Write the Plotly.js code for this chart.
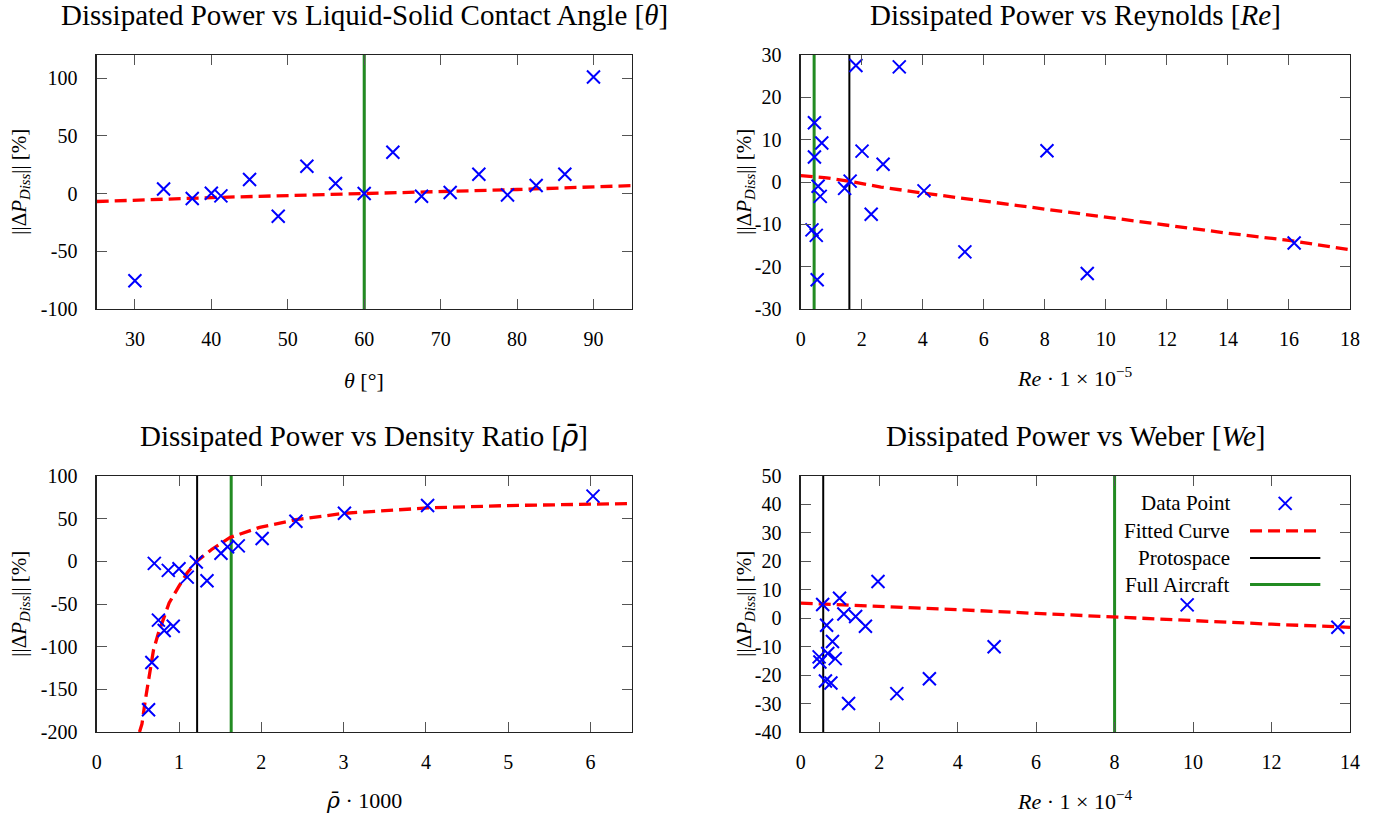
<!DOCTYPE html>
<html>
<head>
<meta charset="utf-8">
<script src="https://cdn.plot.ly/plotly-3.0.1.min.js"></script>
<style>html,body{margin:0;padding:0;background:#fff;}#chart{width:1385px;height:819px;}</style>
</head>
<body>
<div id="chart"></div>
<script>
// ---------- Data ----------
// Panel 1: contact angle
const theta_x = [30, 33.75, 37.5, 40, 41.25, 45, 48.75, 52.5, 56.25, 60, 63.75, 67.5, 71.25, 75, 78.75, 82.5, 86.25, 90];
const theta_y = [-75.6, 4.0, -4.3, 0.3, -2.0, 12.1, -19.6, 23.7, 8.7, 0.0, 35.8, -2.3, 0.9, 16.7, -1.2, 6.9, 16.7, 101];
const theta_fit_x = [25, 40, 60, 80, 95];
const theta_fit_y = [-6.9, -3.5, 0.0, 3.5, 6.9];

// Panel 2: Reynolds (x 1e-5)
const re_x = [1.81, 3.23, 0.45, 0.69, 0.45, 2.01, 2.70, 8.07, 1.62, 1.44, 0.57, 0.64, 4.04, 2.31, 0.37, 0.51, 5.38, 9.39, 0.54, 16.17];
const re_y = [27.5, 27.2, 14.0, 9.2, 5.9, 7.3, 4.2, 7.4, 0.2, -1.5, -1.0, -3.4, -2.1, -7.6, -11.3, -12.6, -16.5, -21.6, -23.1, -14.4];
const re_fit_x = [0, 0.85, 1.62, 2.63, 4, 6, 8, 10, 12, 14, 16, 18];
const re_fit_y = [1.5, 1.0, 0.16, -1.2, -2.6, -4.5, -6.5, -8.3, -10.3, -12.1, -13.8, -16.0];

// Panel 3: density ratio (x 1000)
const rho_x = [0.70, 0.87, 1.00, 1.10, 1.21, 1.34, 1.51, 1.59, 1.72, 2.01, 2.42, 3.01, 4.02, 6.03, 0.75, 0.82, 0.93, 0.67, 0.63];
const rho_y = [-2.4, -10.6, -8.7, -18.5, -0.8, -22.8, 9.4, 16.9, 18.1, 26.8, 46.9, 56.3, 65.4, 76.4, -68.9, -81.1, -76.0, -118.5, -174];
const rho_fit_x = [0.52, 0.55, 0.59, 0.64, 0.69, 0.75, 0.82, 0.88, 1.0, 1.10, 1.22, 1.40, 1.62, 1.98, 2.42, 3.01, 4.02, 5.0, 6.5];
const rho_fit_y = [-200, -190.6, -163, -131.5, -104, -84, -64.6, -48.8, -29, -13.4, 0.4, 14.2, 28, 39.8, 48.8, 56.3, 62.6, 65.4, 67.7];

// Panel 4: Weber (x 1e-4)
const we_x = [1.97, 0.99, 0.56, 1.10, 1.40, 1.65, 0.66, 0.81, 9.85, 13.69, 4.93, 0.69, 0.47, 0.88, 0.49, 3.28, 0.63, 0.77, 2.45, 1.22];
const we_y = [12.9, 7.0, 4.8, 1.5, 0.6, -2.8, -2.5, -8.2, 4.7, -3.2, -10.0, -12.4, -13.6, -14.2, -15.4, -21.3, -22.1, -22.8, -26.5, -30.0];
const we_fit_x = [0, 2, 4, 6, 8, 10, 12, 14];
const we_fit_y = [5.3, 4.2, 3.0, 1.7, 0.4, -0.9, -2.1, -3.2];

// Reference lines (one value per panel)
const protospace_x = [60, 1.595, 1.22, 0.574];
const full_aircraft_x = [60, 0.44, 1.634, 8.0];

// Axis ranges and ticks
const x_ranges = [[25, 95], [0, 18], [0, 6.5], [0, 14]];
const y_ranges = [[-100, 120], [-30, 30], [-200, 100], [-40, 50]];
const x_ticks = [[30, 40, 50, 60, 70, 80, 90], [0, 2, 4, 6, 8, 10, 12, 14, 16, 18], [0, 1, 2, 3, 4, 5, 6], [0, 2, 4, 6, 8, 10, 12, 14]];
const y_ticks = [[-100, -50, 0, 50, 100], [-30, -20, -10, 0, 10, 20, 30], [-200, -150, -100, -50, 0, 50, 100], [-40, -30, -20, -10, 0, 10, 20, 30, 40, 50]];

const RHO_BAR = '<i><span style="font-family:DejaVu Serif">ρ\u0304</span></i>';
const titles = [
  'Dissipated Power vs Liquid-Solid Contact Angle [<i>θ</i>]',
  'Dissipated Power vs Reynolds [<i>Re</i>]',
  'Dissipated Power vs Density Ratio [' + RHO_BAR + ']',
  'Dissipated Power vs Weber [<i>We</i>]'
];
const x_titles = [
  '<i>θ</i> [°]',
  '<i>Re</i> · 1 × 10<sup>−5</sup>',
  RHO_BAR + ' · 1000',
  '<i>Re</i> · 1 × 10<sup>−4</sup>'
];
const y_title = '||Δ<i>P</i><sub><i>Diss</i></sub>|| [%]';
const legend_labels = ['Data Point', 'Fitted Curve', 'Protospace', 'Full Aircraft'];

// ---------- Styling / layout ----------
const W = 1385, H = 819;
const FONT = 'Liberation Serif, Times New Roman, Times, serif';
const BLUE = '#0000ff', RED = '#ff0000', GREEN = '#228b22', BLACK = '#000000';

// plot-area pixel boxes [left, right, top, bottom]
const boxes = [
  [96.7, 631.7, 55, 309],
  [800.7, 1350, 55, 309],
  [96.7, 631.7, 476, 732],
  [800.7, 1350, 476, 732]
];

const pts = [[theta_x, theta_y], [re_x, re_y], [rho_x, rho_y], [we_x, we_y]];
const fits = [[theta_fit_x, theta_fit_y], [re_fit_x, re_fit_y], [rho_fit_x, rho_fit_y], [we_fit_x, we_fit_y]];

const data = [];
const layout = {
  width: W, height: H,
  margin: {l: 0, r: 0, t: 0, b: 0},
  paper_bgcolor: '#fff', plot_bgcolor: '#fff',
  showlegend: false,
  font: {family: FONT, size: 20, color: '#000'},
  shapes: [], annotations: []
};

for (let i = 0; i < 4; i++) {
  const n = i + 1;
  const xs = n === 1 ? 'x' : 'x' + n;
  const ys = n === 1 ? 'y' : 'y' + n;
  const b = boxes[i];
  const common = {
    showline: true, linecolor: '#222', linewidth: 1.3, mirror: 'allticks',
    ticks: 'inside', ticklen: 10, tickwidth: 1, tickcolor: '#555',
    showgrid: false, zeroline: false, tickmode: 'array',
    tickfont: {family: FONT, size: 20, color: '#000'},
    ticklabelstandoff: 12, fixedrange: true
  };
  layout['xaxis' + (n === 1 ? '' : n)] = Object.assign({}, common, {
    domain: [b[0] / W, b[1] / W], range: x_ranges[i], anchor: ys,
    tickvals: x_ticks[i], ticktext: x_ticks[i].map(String)
  });
  layout['yaxis' + (n === 1 ? '' : n)] = Object.assign({}, common, {
    domain: [1 - b[3] / H, 1 - b[2] / H], range: y_ranges[i], anchor: xs,
    tickvals: y_ticks[i], ticktext: y_ticks[i].map(String), ticklabelstandoff: 14
  });

  // reference lines
  layout.shapes.push({type: 'line', layer: 'below', xref: xs, yref: ys + ' domain', x0: protospace_x[i], x1: protospace_x[i], y0: 0, y1: 1, line: {color: BLACK, width: 2}});
  layout.shapes.push({type: 'line', layer: 'below', xref: xs, yref: ys + ' domain', x0: full_aircraft_x[i], x1: full_aircraft_x[i], y0: 0, y1: 1, line: {color: GREEN, width: 3}});

  data.push({
    x: fits[i][0], y: fits[i][1], xaxis: xs, yaxis: ys, mode: 'lines', type: 'scatter',
    line: {color: RED, width: 3.3, dash: '12px,6px'}, hoverinfo: 'skip'
  });
  data.push({
    x: pts[i][0], y: pts[i][1], xaxis: xs, yaxis: ys, mode: 'markers', type: 'scatter',
    marker: {symbol: 'x-thin-open', size: 13, color: BLUE, line: {color: BLUE, width: 2}}
  });

  // panel title
  layout.annotations.push({text: titles[i], xref: xs + ' domain', yref: ys + ' domain', x: 0.5, y: 1,
    xanchor: 'center', yanchor: 'middle', yshift: 40, showarrow: false, font: {family: FONT, size: 29, color: '#000'}});
  // x-axis title
  layout.annotations.push({text: x_titles[i], xref: xs + ' domain', yref: ys + ' domain', x: 0.5, y: 0,
    xanchor: 'center', yanchor: 'middle', yshift: (i === 0 ? -71 : -68), showarrow: false, font: {family: FONT, size: 22, color: '#000'}});
  // y-axis title
  layout.annotations.push({text: y_title, xref: xs + ' domain', yref: ys + ' domain', x: 0, y: 0.5,
    xanchor: 'center', yanchor: 'middle', xshift: (i % 2 === 0 ? -77 : -56), textangle: -90, showarrow: false,
    font: {family: FONT, size: 21, color: '#000'}});
}

// ---------- Legend (inside panel 4, text right-aligned, sample on the right) ----------
const legRows = [0.893, 0.786, 0.680, 0.576];
const legTextX = 0.786, legL0 = 0.818, legL1 = 0.946, legMark = 0.882;
legend_labels.forEach((lab, k) => {
  layout.annotations.push({text: lab, xref: 'x4 domain', yref: 'y4 domain', x: legTextX, y: legRows[k],
    xanchor: 'right', yanchor: 'middle', showarrow: false, font: {family: FONT, size: 21, color: '#000'}});
});
// Data Point sample: an X
[[-6.5, -6.5, 6.5, 6.5], [-6.5, 6.5, 6.5, -6.5]].forEach(s => {
  layout.shapes.push({type: 'line', xref: 'x4 domain', yref: 'y4 domain', xsizemode: 'pixel', ysizemode: 'pixel',
    xanchor: legMark, yanchor: legRows[0], x0: s[0], y0: s[1], x1: s[2], y1: s[3], line: {color: BLUE, width: 2}});
});
layout.shapes.push({type: 'line', xref: 'x4 domain', yref: 'y4 domain', x0: legL0, x1: legL1, y0: legRows[1], y1: legRows[1], line: {color: RED, width: 3.3, dash: '12px,6px'}});
layout.shapes.push({type: 'line', xref: 'x4 domain', yref: 'y4 domain', x0: legL0, x1: legL1, y0: legRows[2], y1: legRows[2], line: {color: BLACK, width: 2}});
layout.shapes.push({type: 'line', xref: 'x4 domain', yref: 'y4 domain', x0: legL0, x1: legL1, y0: legRows[3], y1: legRows[3], line: {color: GREEN, width: 3}});

Plotly.newPlot('chart', data, layout, {staticPlot: true, displayModeBar: false});
</script>
</body>
</html>
